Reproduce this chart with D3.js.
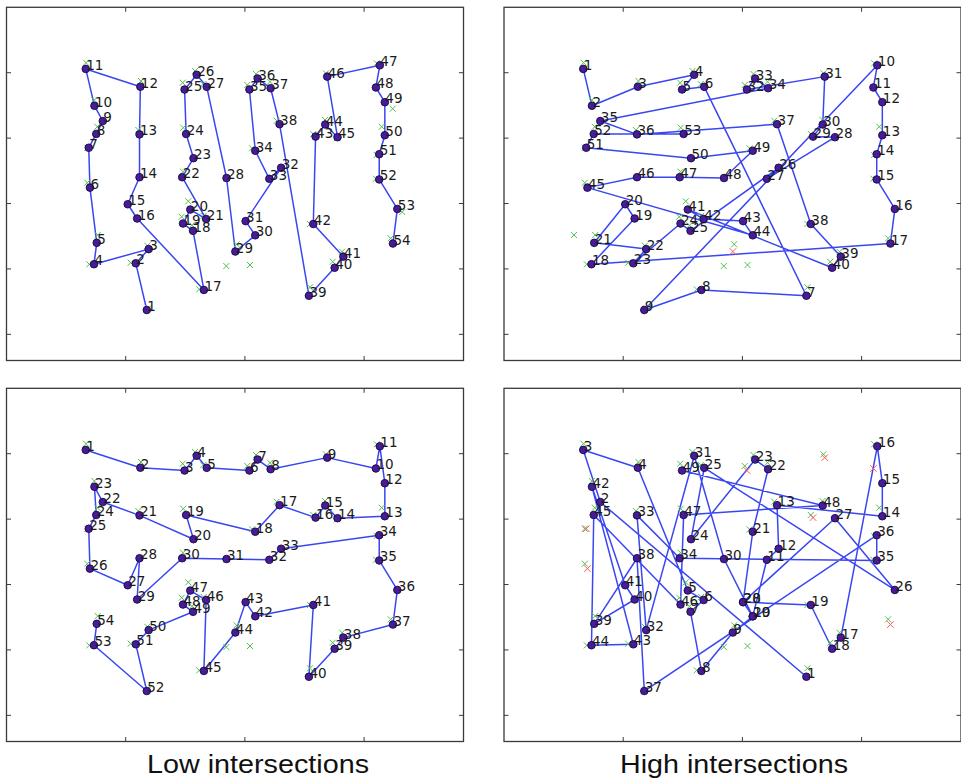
<!DOCTYPE html>
<html><head><meta charset="utf-8">
<script src="https://cdn.jsdelivr.net/npm/d3@7"></script>
<style>body{margin:0;background:#fff}svg{display:block}</style>
</head><body>
<svg id="chart" width="961" height="779"></svg>
<script>
// ---- data: 54 shared locations (tick units) ----
const locX = [1.177,1.085,1.193,0.734,0.757,0.700,0.690,0.753,0.808,0.738,
  0.665,1.123,1.116,1.116,1.017,1.096,1.656,1.565,1.481,1.542,
  1.675,1.474,1.569,1.507,1.494,1.596,1.680,1.846,1.920,2.087,
  2.006,2.304,2.205,2.087,2.038,2.107,2.216,2.291,2.537,2.753,
  2.826,2.574,2.593,2.674,2.777,2.691,3.132,3.099,3.174,3.174,
  3.127,3.127,3.279,3.242];
const locY = [0.372,1.086,1.303,1.072,1.399,2.243,2.853,3.064,3.261,3.494,
  4.058,3.786,3.057,2.402,1.989,1.771,0.679,1.583,1.694,1.908,
  1.763,2.402,2.693,3.064,3.743,3.968,3.784,2.390,1.266,1.514,
  1.731,2.547,2.378,2.807,3.743,3.911,3.763,3.213,0.590,1.018,
  1.188,1.687,3.023,3.208,3.014,3.940,4.113,3.774,3.549,3.044,
  2.754,2.368,1.917,1.388];

// visiting order (location id for label 1, 2, 3, ...)
const orderLowTop = [1,2,3,4,5,6,7,8,9,10,11,12,13,14,15,16,17,18,19,20,21,22,23,24,25,26,27,
  28,29,30,31,32,33,34,35,36,37,38,39,40,41,42,43,44,45,46,47,48,49,50,51,52,53,54];
const orderHighTop = [11,10,12,26,25,27,39,17,1,47,48,49,50,51,52,53,54,4,16,15,5,3,2,19,18,
  32,33,45,43,44,46,35,36,37,9,13,38,42,41,40,20,21,31,30,6,14,22,28,34,23,7,8,24];
const orderLowBottom = [11,12,25,26,27,35,36,37,46,48,47,49,50,45,44,43,38,34,24,23,13,9,10,8,7,6,
  15,14,16,22,28,33,32,51,52,53,54,41,40,39,42,30,31,29,17,21,20,19,18,3,2,1,4,5];
const orderHighBottom = [39,9,11,12,20,21,18,17,29,30,33,32,38,50,49,47,41,40,42,31,34,37,36,23,
  27,53,45,31,30,28,26,3,13,22,52,51,1,14,5,16,15,10,2,4,8,19,24,44,25];

// locations marked with a red cross (not visited)
const redHighTop = [29];
const redHighBottom = [6,7,35,43,46,48,54];

// green crosses (tick units)
const greenX = [0.667,1.128,0.737,0.762,0.678,0.678,0.765,0.695,1.042,1.181,1.190,1.106,1.617,1.556,
  1.470,1.525,1.654,1.481,1.483,1.478,1.581,1.651,1.847,1.931,2.020,2.093,2.211,2.267,2.060,2.574,
  2.672,2.770,2.680,3.106,3.148,3.106,3.100,3.223,2.546,2.815,2.737,2.546,2.043,1.844];
const greenY = [4.153,3.873,3.583,3.174,2.853,2.318,1.518,1.070,1.095,1.355,0.398,3.124,0.688,1.667,
  1.798,2.034,1.809,2.486,3.159,3.847,4.026,3.827,2.385,1.376,3.812,3.980,3.862,3.266,2.844,3.063,
  3.277,2.997,3.991,4.144,3.174,2.742,2.379,1.468,1.687,1.263,1.110,0.719,1.060,1.044];
const greenExtraLowTopX = [3.240,3.320];
const greenExtraLowTopY = [3.450,1.870];
const greenExtraHighTopX = [0.587];
const greenExtraHighTopY = [1.518];

const xTicks = [1,2,3];
const yTicks = [0,1,2,3,4];
const xDomain = [0, 3.834];
const yDomain = [-0.4, 5.0];
const captions = ["Low intersections", "High intersections"];

// ---- layout ----
const panels = [
  {order: orderLowTop, red: [], gx: greenExtraLowTopX, gy: greenExtraLowTopY, left: 6.5, top: 7.3},
  {order: orderHighTop, red: redHighTop, gx: greenExtraHighTopX, gy: greenExtraHighTopY, left: 504, top: 7.3},
  {order: orderLowBottom, red: [], gx: [], gy: [], left: 6.5, top: 388.3},
  {order: orderHighBottom, red: redHighBottom, gx: [], gy: [], left: 504, top: 388.3}
];
const PW = 457, PH = 353.2;

const svg = d3.select("#chart");
const xpath = s => `M${-s},${-s}L${s},${s}M${-s},${s}L${s},${-s}`;

panels.forEach((p, pi) => {
  const x = d3.scaleLinear().domain(xDomain).range([p.left, p.left + PW]);
  const y = d3.scaleLinear().domain(yDomain).range([p.top + PH, p.top]);
  const g = svg.append("g");
  const clipId = "clip" + pi;
  svg.append("clipPath").attr("id", clipId).append("rect")
    .attr("x", p.left).attr("y", p.top).attr("width", PW).attr("height", PH);
  const inner = g.append("g").attr("clip-path", `url(#${clipId})`);

  const pts = p.order.map(id => ({id, x: locX[id - 1], y: locY[id - 1]}));

  // tour line
  inner.append("path")
    .datum(pts)
    .attr("d", d3.line().x(d => x(d.x)).y(d => y(d.y)))
    .attr("fill", "none").attr("stroke", "#3a46f2").attr("stroke-width", 1.5)
    .attr("stroke-linejoin", "round");

  // green crosses
  const greens = greenX.map((v, i) => [v, greenY[i]]).concat(p.gx.map((v, i) => [v, p.gy[i]]));
  inner.selectAll(".gx").data(greens).enter().append("path")
    .attr("transform", d => `translate(${x(d[0])},${y(d[1])})`)
    .attr("d", xpath(3)).attr("stroke", "#4fc24f").attr("stroke-width", 1).attr("fill", "none");

  // red crosses
  inner.selectAll(".rx").data(p.red).enter().append("path")
    .attr("transform", id => `translate(${x(locX[id - 1])},${y(locY[id - 1])})`)
    .attr("d", xpath(3.3)).attr("stroke", "#ff5a5a").attr("stroke-width", 1).attr("fill", "none");

  // points
  inner.selectAll("circle").data(pts).enter().append("circle")
    .attr("cx", d => x(d.x)).attr("cy", d => y(d.y)).attr("r", 3.8)
    .attr("fill", "#4a1a98").attr("stroke", "#0c0c45").attr("stroke-width", 0.9);

  // labels
  inner.selectAll("text").data(pts).enter().append("text")
    .attr("x", d => x(d.x) + 0.5).attr("y", d => y(d.y) + 1)
    .attr("font-family", "DejaVu Sans, sans-serif").attr("font-size", 13.5)
    .attr("fill", "#1a1a1a")
    .text((d, i) => i + 1);

  // frame
  g.append("rect").attr("x", p.left).attr("y", p.top).attr("width", PW).attr("height", PH)
    .attr("fill", "none").attr("stroke", "#3a3a3a").attr("stroke-width", 1.3);
  // ticks (inward, all four sides)
  const tl = 4.5;
  xTicks.forEach(t => {
    g.append("line").attr("x1", x(t)).attr("x2", x(t)).attr("y1", p.top).attr("y2", p.top + tl)
      .attr("stroke", "#3a3a3a");
    g.append("line").attr("x1", x(t)).attr("x2", x(t)).attr("y1", p.top + PH).attr("y2", p.top + PH - tl)
      .attr("stroke", "#3a3a3a");
  });
  yTicks.forEach(t => {
    g.append("line").attr("y1", y(t)).attr("y2", y(t)).attr("x1", p.left).attr("x2", p.left + tl)
      .attr("stroke", "#3a3a3a");
    g.append("line").attr("y1", y(t)).attr("y2", y(t)).attr("x1", p.left + PW).attr("x2", p.left + PW - tl)
      .attr("stroke", "#3a3a3a");
  });
});

// captions
const capX = [258, 734];
const capW = [222, 228];
captions.forEach((c, i) => {
  svg.append("text").attr("x", capX[i]).attr("y", 773)
    .attr("text-anchor", "middle")
    .attr("font-family", "Liberation Sans, Arial, sans-serif").attr("font-size", 25)
    .attr("fill", "#111")
    .attr("textLength", capW[i]).attr("lengthAdjust", "spacingAndGlyphs")
    .text(c);
});
</script>
</body></html>
